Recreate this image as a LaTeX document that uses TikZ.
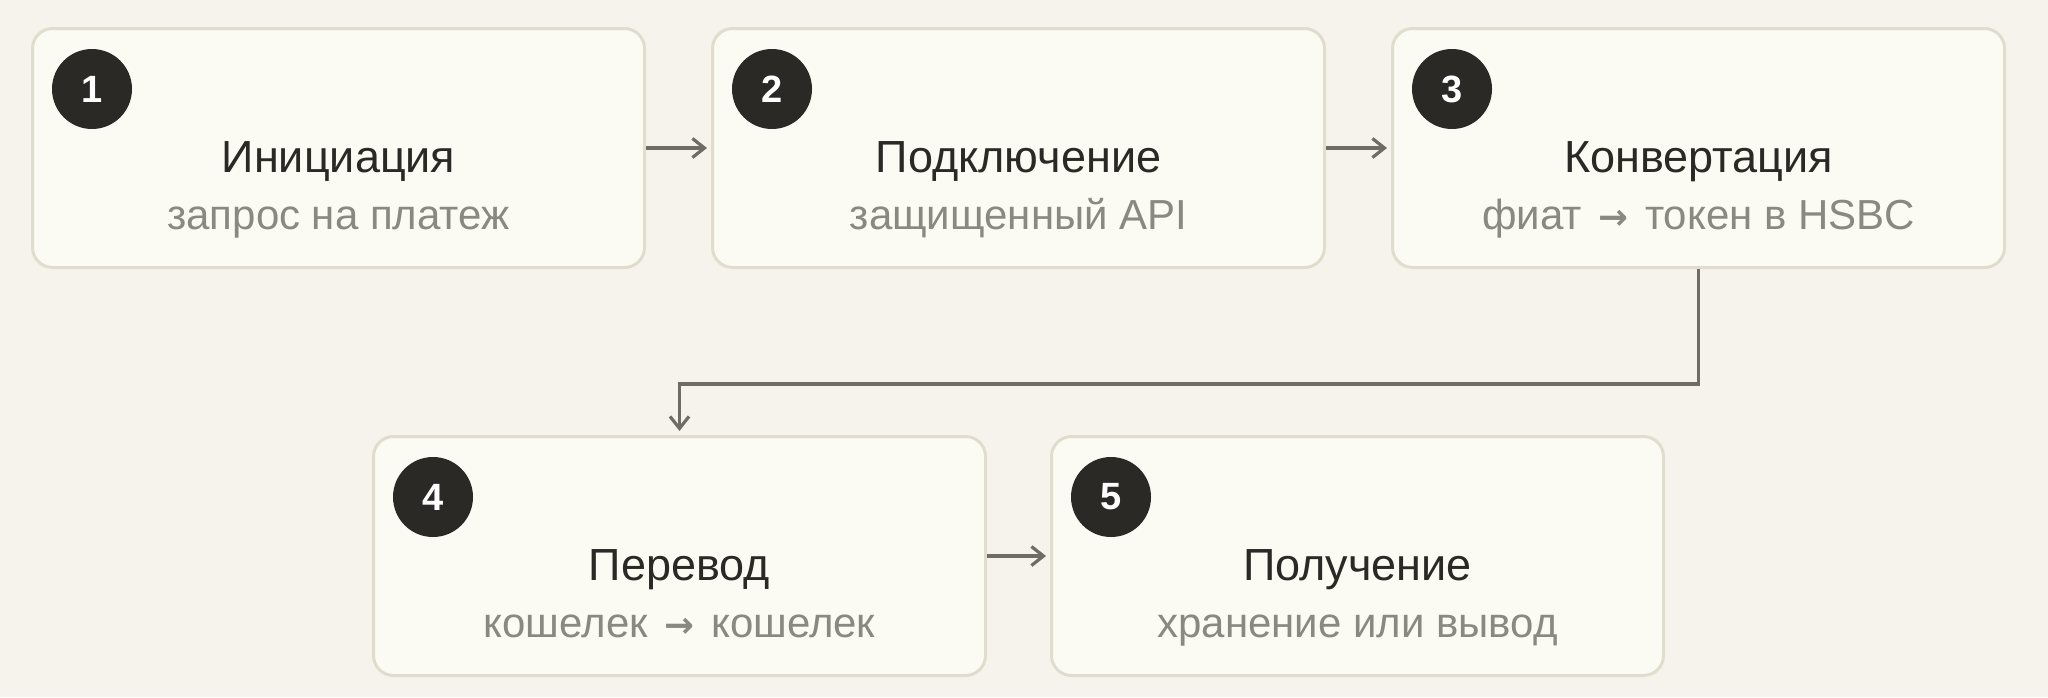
\documentclass[tikz,border=0pt]{standalone}
\usepackage{fontspec}
\setmainfont{Liberation Sans}
\newfontfamily\arrowfont{DejaVu Sans}
\newcommand{\rarr}{\hspace{0.12em}{\arrowfont\bfseries\scalebox{0.85}{→}}\hspace{0.12em}}
\usetikzlibrary{calc,arrows.meta}
\definecolor{bg}{HTML}{F6F3EC}
\definecolor{boxfill}{HTML}{FBFAF3}
\definecolor{boxline}{HTML}{E0DDCF}
\definecolor{badge}{HTML}{2A2926}
\definecolor{titlec}{HTML}{2A2926}
\definecolor{subc}{HTML}{8A8881}
\definecolor{linec}{HTML}{6F6C66}
\tikzset{
  stepbox/.style={draw=boxline, line width=1.5pt, fill=boxfill, rounded corners=10pt,
    rectangle, minimum width=306pt, minimum height=119.5pt, anchor=north west, inner sep=0pt},
  badgenode/.style={circle, fill=badge, minimum size=40pt, inner sep=0pt,
    text=white, font=\fontsize{19}{20}\selectfont\bfseries},
  titletext/.style={anchor=base, text=titlec, font=\fontsize{22.5}{26}\selectfont, inner sep=0pt},
  subtext/.style={anchor=base, text=subc, font=\fontsize{21}{24}\selectfont, inner sep=0pt},
  conn/.style={draw=linec, line width=1.6pt, -{Straight Barb[length=6pt,width=9.5pt,line width=1.6pt]}, shorten >=2pt}
}
\begin{document}
\begin{tikzpicture}[x=0.5pt,y=-0.5pt]
\fill[bg] (0,0) rectangle (2048,697);
\useasboundingbox (0,0) rectangle (2048,697);

\node[stepbox] (b1) at (31,27) {};
\node[stepbox] (b2) at (711,27) {};
\node[stepbox] (b3) at (1391,27) {};
\node[stepbox] (b4) at (372,435) {};
\node[stepbox] (b5) at (1050,435) {};

\foreach \b/\n/\t/\s in {b1/1/Инициация/запрос на платеж,
                         b2/2/Подключение/защищенный API,
                         b3/3/Конвертация/фиат \rarr{} токен в HSBC,
                         b4/4/Перевод/кошелек \rarr{} кошелек,
                         b5/5/Получение/хранение или вывод}{
  \node[badgenode] (\b n) at ($(\b.north west)+(61,62)$) {\n};
  \node[titletext] (\b t) at ($(\b.north)+(0,145)$) {\t};
  \node[subtext] (\b s) at ($(\b.north)+(0,202)$) {\s};
}

\coordinate (mid) at (0,384);
\draw[conn] (b1.east) -- (b2.west);
\draw[conn] (b2.east) -- (b3.west);
\draw[conn] (b4.east) -- (b5.west);
\draw[conn] (b3.south) -- (b3.south |- mid) -| (b4.north);
\end{tikzpicture}
\end{document}
